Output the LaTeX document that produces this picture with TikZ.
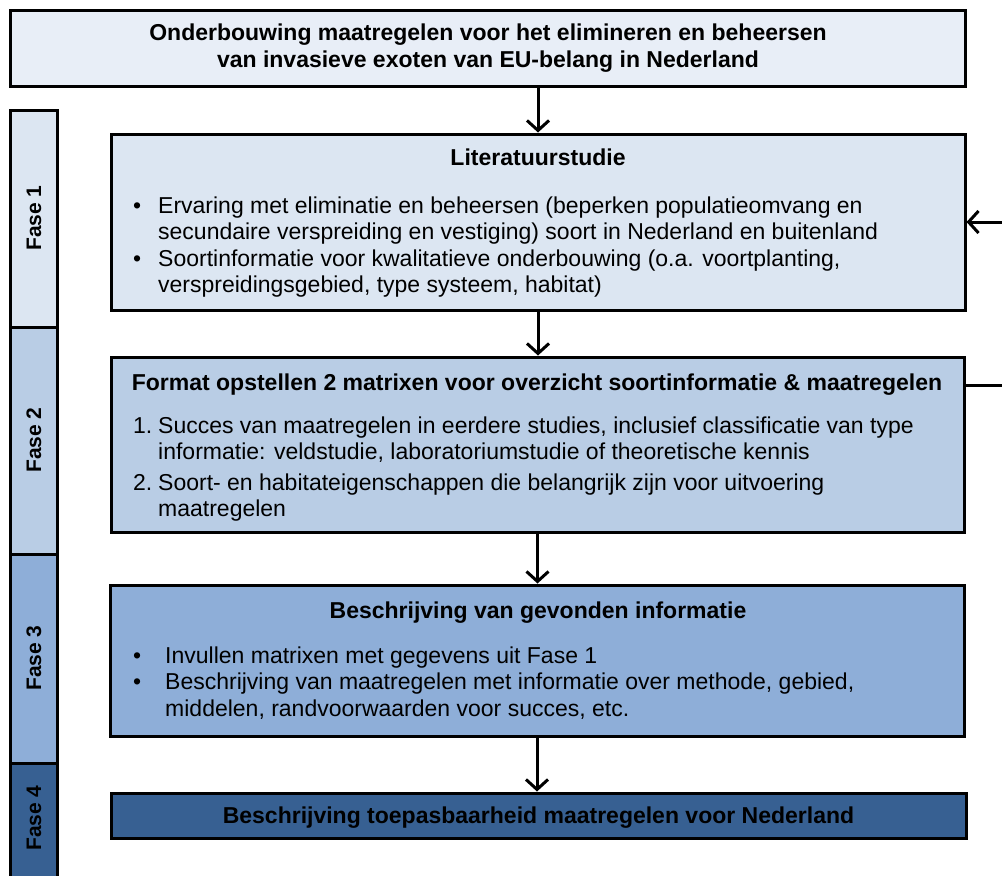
\documentclass[tikz,border=0pt]{standalone}
\usepackage{fontspec}
\setmainfont{Liberation Sans}
\usepackage{xcolor}
\usetikzlibrary{arrows.meta}

\definecolor{titlecol}{HTML}{E8EEF7}
\definecolor{faseone}{HTML}{DCE6F2}
\definecolor{fasetwo}{HTML}{B9CDE5}
\definecolor{fasethree}{HTML}{8EAED8}
\definecolor{fasefour}{HTML}{376092}

\newcommand{\opsom}[2]{\leavevmode\llap{\makebox[#1][l]{#2}}}

\begin{document}
\begin{tikzpicture}[x=1pt, y=-1pt, every node/.style={inner sep=0pt},
  blok/.style={draw, line width=3pt, fill=#1},
  kop/.style={font=\fontsize{23}{27}\selectfont\bfseries, align=center},
  tekst/.style={font=\fontsize{23}{26.5}\selectfont, anchor=base west},
  fasetxt/.style={font=\fontsize{21}{24}\selectfont\bfseries},
  pijl/.style={line width=3pt, -{Straight Barb[length=10pt, width=22pt]}}]

\useasboundingbox (0,0) rectangle (1002,876);
\clip (0,0) rectangle (1002,876);

% fasen links
\node[blok=faseone, minimum width=47pt, minimum height=217pt] (fase1) at (33.5,218.5) {};
\node[blok=fasetwo, minimum width=47pt, minimum height=227pt] (fase2) at (33.5,440.5) {};
\node[blok=fasethree, minimum width=47pt, minimum height=209pt] (fase3) at (33.5,658.5) {};
\node[blok=fasefour, minimum width=47pt, minimum height=130pt] (fase4) at (33.5,828) {};

\node[fasetxt] (fase1txt) at (34,218) {\rotatebox{90}{Fase 1}};
\node[fasetxt] (fase2txt) at (34,440) {\rotatebox{90}{Fase 2}};
\node[fasetxt] (fase3txt) at (34,658) {\rotatebox{90}{Fase 3}};
\node[fasetxt] (fase4txt) at (34,818) {\rotatebox{90}{Fase 4}};

% blokken
\node[blok=titlecol, minimum width=955pt, minimum height=76pt] (title) at (487.5,48) {};
\node[blok=faseone, minimum width=854pt, minimum height=176pt] (lit) at (538,222) {};
\node[blok=fasetwo, minimum width=853pt, minimum height=175pt] (fmt) at (537.5,444.5) {};
\node[blok=fasethree, minimum width=854pt, minimum height=151pt] (descr) at (537,660.5) {};
\node[blok=fasefour, minimum width=855pt, minimum height=45pt] (appl) at (538.5,815.5) {};

% teksten
\node[kop] (titletxt) at (488,48.5) {Onderbouwing maatregelen voor het elimineren en beheersen\\
van invasieve exoten van EU-belang in Nederland};

\node[kop, anchor=base] (lithead) at (538,165) {Literatuurstudie};
\node[tekst] (littxt) at (158,213) {\parbox[t]{800pt}{%
\opsom{25pt}{\textbullet}Ervaring met eliminatie en beheersen (beperken populatieomvang en\\
secundaire verspreiding en vestiging) soort in Nederland en buitenland\\
\opsom{25pt}{\textbullet}Soortinformatie voor kwalitatieve onderbouwing (o.a. voortplanting,\\
verspreidingsgebied, type systeem, habitat)}};

\node[kop, anchor=base] (fmthead) at (537,390) {Format opstellen 2 matrixen voor overzicht soortinformatie \& maatregelen};
\node[tekst] (fmttxt) at (158,433) {\parbox[t]{800pt}{%
\opsom{25pt}{1.}Succes van maatregelen in eerdere studies, inclusief classificatie van type\\
informatie: veldstudie, laboratoriumstudie of theoretische kennis\\[4pt]
\opsom{25pt}{2.}Soort- en habitateigenschappen die belangrijk zijn voor uitvoering\\
maatregelen}};

\node[kop, anchor=base] (descrhead) at (538,618) {Beschrijving van gevonden informatie};
\node[tekst] (descrtxt) at (165,663) {\parbox[t]{800pt}{%
\opsom{32pt}{\textbullet}Invullen matrixen met gegevens uit Fase 1\\
\opsom{32pt}{\textbullet}Beschrijving van maatregelen met informatie over methode, gebied,\\
middelen, randvoorwaarden voor succes, etc.}};

\node[kop, anchor=base] (appltxt) at (538.5,823) {Beschrijving toepasbaarheid maatregelen voor Nederland};

% pijlen
\draw[pijl] (title.south -| lit.north) -- (lit.north);
\draw[pijl] (lit.south) -- (lit.south |- fmt.north);
\draw[pijl] (fmt.south) -- (fmt.south |- descr.north);
\draw[pijl] (descr.south) -- (descr.south |- appl.north);

\coordinate (terug) at (1015,300);
\draw[pijl] ([yshift=-30pt]fmt.north east) -| (terug) |- (lit.east);

\end{tikzpicture}
\end{document}
